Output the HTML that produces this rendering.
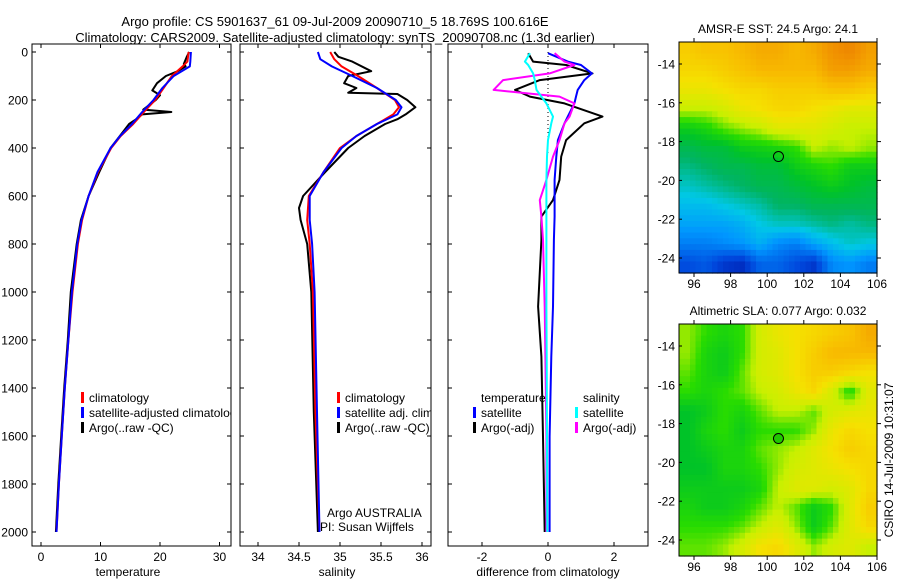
<!DOCTYPE html>
<html><head><meta charset="utf-8"><style>
body{margin:0;background:#fff;}
svg{display:block;font-family:"Liberation Sans",sans-serif;}
</style></head><body>
<svg id="fig" width="900" height="580" viewBox="0 0 900 580">
<defs>
<clipPath id="c1"><rect x="32" y="44" width="199" height="502"/></clipPath>
<clipPath id="c2"><rect x="240" y="44" width="191" height="502"/></clipPath>
<clipPath id="c3"><rect x="448" y="44" width="200" height="502"/></clipPath>
</defs>
<text x="335" y="26" text-anchor="middle" font-size="13">Argo profile: CS 5901637_61 09-Jul-2009 20090710_5 18.769S 100.616E</text>
<text x="335" y="42" text-anchor="middle" font-size="13">Climatology: CARS2009. Satellite-adjusted climatology: synTS_20090708.nc (1.3d earlier)</text>
<g id="g"></g>
<text transform="translate(893,460) rotate(-90)" text-anchor="middle" font-size="12">CSIRO 14-Jul-2009 10:31:07</text>
</svg>
<script>
// ---- profile data ----
const tDepth = [0,40,60,100,150,200,250,300,350,400,500,600,700,800,1000,1200,1400,1600,1800,2000];
const tClim = [24.8,24.6,23.8,22.0,20.6,19.2,17.3,15.5,13.4,11.8,9.6,8.0,6.9,6.2,5.3,4.6,4.0,3.5,3.0,2.6];
const tSat  = [25.2,25.1,25.0,22.3,20.4,18.9,17.0,15.3,13.3,11.7,9.5,8.0,6.8,6.1,5.2,4.6,4.0,3.5,3.0,2.6];
const tArgoDepth = [0,20,50,60,80,100,130,160,180,200,240,250,260,280,300,400,500,600,700,800,1000,1200,1400,1600,1800,2000];
const tArgo = [24.9,24.5,24.0,24.3,23.0,21.0,19.5,18.7,20.0,19.3,17.2,21.9,17.0,16.0,14.8,11.7,9.8,8.0,6.7,6.0,5.0,4.5,3.9,3.4,2.9,2.5];
const sDepth = [0,30,60,100,150,200,230,260,300,350,400,500,600,700,800,1000,1500,2000];
const sClim = [34.88,34.93,35.02,35.22,35.45,35.67,35.72,35.65,35.45,35.2,35.0,34.8,34.62,34.6,34.63,34.67,34.7,34.75];
const sSat  = [34.73,34.76,34.9,35.15,35.45,35.68,35.75,35.7,35.45,35.2,35.02,34.8,34.63,34.63,34.66,34.69,34.72,34.75];
const sArgoDepth = [0,20,40,80,100,130,150,170,175,200,230,260,280,300,350,400,500,600,650,700,800,1000,1500,2000];
const sArgo = [34.93,34.98,35.15,35.38,35.1,35.05,35.2,35.1,35.7,35.82,35.92,35.8,35.7,35.55,35.3,35.1,34.82,34.55,34.5,34.52,34.6,34.65,34.68,34.73];
const dDepth = [5,40,54,89,117,158,186,214,269,297,367,436,533,617,686,783,1061,1269,1603,2000];
const dTSat = [0,0.6,1.0,1.33,1.1,0.9,0.85,0.8,0.6,0.5,0.3,0.25,0.2,0.2,0.2,0.18,0.15,0.1,0.05,0.05];
const dTArgo = [-0.6,-0.45,0.55,1.35,-0.25,-1.0,-0.55,0.5,1.65,1.1,0.55,0.4,0.35,0.15,-0.2,-0.2,-0.3,-0.2,-0.15,-0.1];
const dSSat = [-0.55,-0.7,-0.6,-0.45,-0.4,-0.35,-0.2,-0.05,0.15,0.1,0,-0.03,-0.05,-0.05,-0.05,-0.05,-0.05,-0.04,-0.03,-0.02];
const dSArgo = [0.2,0.5,0.8,0.05,-1.36,-1.65,0.35,0.8,0.65,0.5,0.35,0.15,-0.05,-0.25,-0.2,-0.15,-0.1,-0.08,-0.05,-0.05];
const depthTicks = [0,200,400,600,800,1000,1200,1400,1600,1800,2000];
const tTicks = [0,10,20,30];
const sTicks = [34,34.5,35,35.5,36];
const dTicks = [-2,0,2];
// ---- map data (rows north->south, cols west->east) ----
const sstGrid = [
[.74,.76,.76,.78,.80,.80,.78,.80,.84,.86,.82],
[.72,.72,.74,.76,.78,.78,.78,.78,.82,.82,.80],
[.68,.68,.70,.72,.72,.74,.74,.74,.76,.76,.74],
[.62,.62,.64,.68,.70,.72,.72,.70,.68,.66,.66],
[.52,.54,.58,.60,.62,.66,.66,.66,.64,.62,.62],
[.46,.48,.48,.52,.53,.54,.56,.62,.60,.62,.60],
[.42,.44,.46,.46,.48,.48,.52,.54,.56,.52,.52],
[.38,.40,.42,.44,.46,.46,.48,.50,.52,.50,.48],
[.34,.34,.36,.38,.40,.44,.44,.46,.46,.46,.46],
[.30,.30,.30,.32,.36,.38,.38,.40,.42,.40,.42],
[.24,.24,.26,.28,.32,.26,.24,.30,.34,.38,.36],
[.16,.18,.12,.10,.20,.20,.16,.12,.26,.28,.24]];
const slaGrid = [
[.60,.56,.54,.56,.64,.68,.70,.72,.74,.76,.80],
[.60,.54,.52,.56,.64,.66,.70,.74,.78,.78,.78],
[.58,.54,.52,.58,.64,.66,.70,.74,.74,.72,.70],
[.56,.54,.56,.58,.62,.64,.68,.72,.64,.54,.66],
[.50,.52,.56,.54,.58,.62,.62,.58,.64,.66,.68],
[.50,.54,.56,.52,.56,.56,.56,.60,.68,.72,.70],
[.50,.52,.54,.54,.58,.60,.62,.66,.70,.74,.72],
[.50,.50,.54,.54,.56,.60,.64,.66,.68,.70,.72],
[.52,.52,.52,.52,.54,.62,.66,.66,.64,.66,.72],
[.54,.52,.52,.54,.58,.62,.58,.52,.56,.66,.74],
[.56,.56,.56,.58,.62,.66,.60,.52,.58,.66,.72],
[.58,.58,.60,.64,.70,.72,.66,.60,.64,.66,.62]];
const latTicks = [-14,-16,-18,-20,-22,-24];
const lonTicks = [96,98,100,102,104,106];
const argoLon = 100.616, argoLat = -18.769;

const NS='http://www.w3.org/2000/svg';
const G=document.getElementById('g');
function el(tag,attrs,parent,text){const e=document.createElementNS(NS,tag);for(const k in attrs)e.setAttribute(k,attrs[k]);if(text!==undefined)e.textContent=text;(parent||G).appendChild(e);return e;}
const yD=d=>52+d*0.24;
function lin(d0,p0,d1,p1){return v=>p0+(v-d0)*(p1-p0)/(d1-d0);}

const panels=[
 {x0:32,x1:231,clip:'c1',xs:lin(0,41,10,100.5),ticks:tTicks,lbl:'temperature',lx:128,name:'temperature'},
 {x0:240,x1:431,clip:'c2',xs:lin(34,258,35,340),ticks:sTicks,lbl:'salinity',lx:337,name:'salinity'},
 {x0:448,x1:648,clip:'c3',xs:lin(0,548,1,581),ticks:dTicks,lbl:'difference from climatology',lx:548,name:'difference'}];

panels.forEach((p,i)=>{
 const g=el('g',{});
 
 
 // ticks
 depthTicks.forEach(d=>{
  const y=yD(d);
  el('line',{x1:p.x0,y1:y,x2:p.x0+4,y2:y,stroke:'#000'},g);
  el('line',{x1:p.x1,y1:y,x2:p.x1-4,y2:y,stroke:'#000'},g);
  if(i===0){const t=el('text',{x:28,y:y+4.5,'text-anchor':'end','font-size':12},g,String(d));
   }
 });
 p.ticks.forEach(v=>{
  const x=p.xs(v);
  el('line',{x1:x,y1:546,x2:x,y2:542,stroke:'#000'},g);
  el('line',{x1:x,y1:44,x2:x,y2:48,stroke:'#000'},g);
  const t=el('text',{x:x,y:561,'text-anchor':'middle','font-size':12},g,String(v));
  
 });
 const xl=el('text',{x:p.lx,y:576,'text-anchor':'middle','font-size':12},g,p.lbl);
 
 p.g=el('g',{'clip-path':'url(#'+p.clip+')'},g);
 el('rect',{x:p.x0,y:44,width:p.x1-p.x0,height:502,fill:'none',stroke:'#000'},g);
});
function line(p,xs,ds,color,name,w){
 const pts=xs.map((v,i)=>p.xs(v).toFixed(1)+','+yD(ds[i]).toFixed(1)).join(' ');
 const l=el('polyline',{points:pts,fill:'none',stroke:color,'stroke-width':w||2,'stroke-linejoin':'round'},p.g);
 
 
}
const [P1,P2,P3]=panels;
line(P1,tArgo,tArgoDepth,'#000','temp-argo-line');
line(P1,tClim,tDepth,'#f00','temp-climatology-line');
line(P1,tSat,tDepth,'#00f','temp-satellite-line');
line(P2,sArgo,sArgoDepth,'#000','sal-argo-line');
line(P2,sClim,sDepth,'#f00','sal-climatology-line');
line(P2,sSat,sDepth,'#00f','sal-satellite-line');
el('line',{x1:P3.xs(0),y1:yD(0),x2:P3.xs(0),y2:yD(420),stroke:'#000','stroke-dasharray':'1,3'},P3.g);
line(P3,dTArgo,dDepth,'#000','diff-temp-argo-line');
line(P3,dTSat,dDepth,'#00f','diff-temp-satellite-line');
line(P3,dSArgo,dDepth,'#f0f','diff-sal-argo-line');
line(P3,dSSat,dDepth,'#0ff','diff-sal-satellite-line');

function legend(p,x,y,color,txt){
 if(color) el('rect',{x:x,y:y-10,width:3,height:11,fill:color},p.g);
 const t=el('text',{x:x+8,y:y,'font-size':12},p.g,txt);
 
}
legend(P1,81,402,'#f00','climatology');
legend(P1,81,417,'#00f','satellite-adjusted climatology');
legend(P1,81,432,'#000','Argo(..raw -QC)');
legend(P2,337,402,'#f00','climatology');
legend(P2,337,417,'#00f','satellite adj. clim.');
legend(P2,337,432,'#000','Argo(..raw -QC)');
legend(P3,473,402,null,'temperature');
legend(P3,473,417,'#00f','satellite');
legend(P3,473,432,'#000','Argo(-adj)');
legend(P3,575,402,null,'salinity');
legend(P3,575,417,'#0ff','satellite');
legend(P3,575,432,'#f0f','Argo(-adj)');
const a1=el('text',{x:327,y:517,'font-size':12},P2.g,'Argo AUSTRALIA');

const a2=el('text',{x:320,y:531,'font-size':12},P2.g,'PI: Susan Wijffels');


// ---- maps ----
const stops=[[0,[0,0,140]],[.15,[0,70,220]],[.28,[0,150,255]],[.36,[0,200,230]],[.44,[0,180,100]],[.5,[0,195,40]],[.56,[40,220,0]],[.62,[200,240,0]],[.7,[245,225,0]],[.77,[248,190,0]],[.85,[240,140,0]],[.95,[210,90,0]]];
function cmap(v){for(let i=1;i<stops.length;i++){if(v<=stops[i][0]){const a=stops[i-1],b=stops[i],f=(v-a[0])/(b[0]-a[0]);return 'rgb('+a[1].map((c,k)=>Math.round(c+(b[1][k]-c)*f)).join(',')+')';}}return 'rgb(210,90,0)';}
function sample(grid,r,c){const R=grid.length-1,C=grid[0].length-1;r=Math.max(0,Math.min(R,r));c=Math.max(0,Math.min(C,c));const r0=Math.floor(r),c0=Math.floor(c),r1=Math.min(R,r0+1),c1=Math.min(C,c0+1),fr=r-r0,fc=c-c0;
 return grid[r0][c0]*(1-fr)*(1-fc)+grid[r0][c1]*(1-fr)*fc+grid[r1][c0]*fr*(1-fc)+grid[r1][c1]*fr*fc;}
function drawMap(grid,top,bottom,title,name,filled){
 const L=679,R=877;const lonX=lin(96,694,106,877);const latY=lin(-14,top+22,-24,top+216);
 const g=el('g',{});
 const N=36,M=40,cw=(R-L)/N,ch=(bottom-top)/M;
 for(let i=0;i<M;i++)for(let j=0;j<N;j++){
  const v=sample(grid,(i+0.5)/M*grid.length-0.5,(j+0.5)/N*grid[0].length-0.5);
  const c=el('rect',{x:(L+j*cw).toFixed(2),y:(top+i*ch).toFixed(2),width:(cw+0.6).toFixed(2),height:(ch+0.6).toFixed(2),fill:cmap(v)},g);
  
  
 }
 el('rect',{x:L,y:top,width:R-L,height:bottom-top,fill:'none',stroke:'#000'},g);
 latTicks.forEach(t=>{const y=latY(t);el('line',{x1:R,y1:y,x2:R+4,y2:y,stroke:'#000'},g);el('line',{x1:L,y1:y,x2:L+3,y2:y,stroke:'#000'},g);
  const tx=el('text',{x:675,y:y+4.5,'text-anchor':'end','font-size':12},g,String(t));});
 lonTicks.forEach(t=>{const x=lonX(t);el('line',{x1:x,y1:top,x2:x,y2:top-4,stroke:'#000'},g);el('line',{x1:x,y1:bottom,x2:x,y2:bottom+4,stroke:'#000'},g);
  const tx=el('text',{x:x,y:bottom+15,'text-anchor':'middle','font-size':12},g,String(t));});
 const tt=el('text',{x:778,y:top-9,'text-anchor':'middle','font-size':12},g,title);
 
 const m=el('circle',{cx:lonX(argoLon),cy:latY(argoLat),r:5,fill:filled||'none',stroke:'#000'},g);
 
}
drawMap(sstGrid,42,273,'AMSR-E SST: 24.5 Argo: 24.1','sst-map');
drawMap(slaGrid,324,556,'Altimetric SLA: 0.077 Argo: 0.032','sla-map','#20c800');
</script>
</body></html>
